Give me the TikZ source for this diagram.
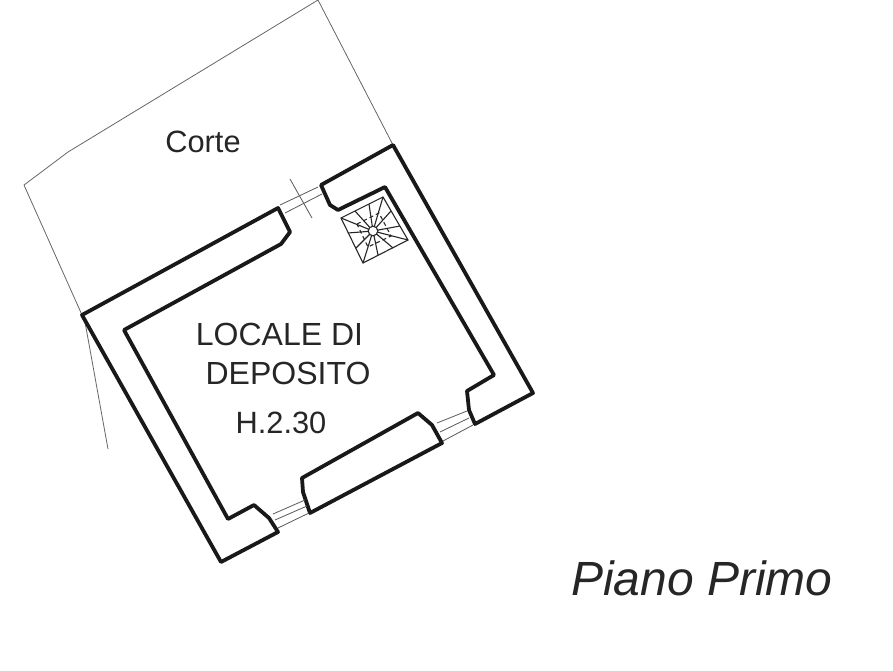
\documentclass[tikz,border=0pt]{standalone}
\usepackage{fontspec}
\setmainfont{Liberation Sans}
\tikzset{
  wall/.style={line width=3.8pt,line join=round,black!90},
  thin line/.style={line width=0.8pt,black!60},
  opening/.style={line width=0.8pt,black!65},
  tread/.style={line width=1.1pt,black!85},
  room label/.style={inner sep=0pt,font=\fontsize{30.8}{34}\selectfont,black!85},
  caps label/.style={room label,font=\fontsize{32}{36}\selectfont},
}
\begin{document}
\begin{tikzpicture}[x=1pt,y=-1pt]
        \useasboundingbox
          [fill=white]
          (0,0) rectangle (893,670)
        ;
        \draw
          [thin line]
          (82,315)
          -- (24,185)
          -- (68,152)
          -- (318,0)
          -- (393,145)
        ;
        \draw
          [thin line]
          (85,322)
          -- (108,449)
        ;
        \draw
          [wall]
          (82,315)
          -- (278,208)
          -- (290,232)
          -- (281,244)
          -- (124,330)
          -- (228,519)
          -- (254,505)
          -- (269,518)
          -- (278,532)
          -- (221,562)
          -- cycle
        ;
        \draw
          [wall]
          (302,478)
          -- (418,413)
          -- (432,425)
          -- (442,443)
          -- (310,513)
          -- (303,492)
          -- cycle
        ;
        \draw
          [wall]
          (321,185)
          -- (393,145)
          -- (533,393)
          -- (475,424)
          -- (469,410)
          -- (467,391)
          -- (494,375)
          -- (385,187)
          -- (338,210)
          -- (330,205)
          -- cycle
        ;
        % openings
        \draw [opening] (280,205) -- (318,187);
        \draw [opening] (285,213) -- (322,194);
        \draw [opening] (290,179) -- (312,218);
        \draw [opening] (273,514) -- (305,500);
        \draw [opening] (275,520) -- (307,506);
        \draw [opening] (278,528) -- (309,513);
        \draw [opening] (437,423) -- (467,411);
        \draw [opening] (440,432) -- (469,418);
        \draw [opening] (443,441) -- (473,425);
        % stair
        \draw
          [tread]
          (341,218)
          -- (383,197)
          -- (408,240)
          -- (363,263)
          -- cycle
        ;
        \foreach \tipx/\tipy in {
            341/218,355/211,369/204,383/197,
            391/211,400/226,408/240,
            393/248,378/255,363/263,
            356/248,348/233}
          {\draw [tread] (373,231) -- (\tipx,\tipy);}
        \draw
          [tread,dash pattern=on 4pt off 3pt]
          (357,224)
          -- (379,213)
          -- (391,236)
          -- (368,247)
          -- cycle
        ;
        \draw [tread,fill=white] (373,231) circle (4.8);
        \node (corte) [room label] at (203,142) {Corte};
        \node (locale) [caps label] at (279.5,334) {LOCALE DI};
        \node (deposito) [caps label] at (288,373) {DEPOSITO};
        \node (altezza) [room label] at (281,423) {H.2.30};
        \node (piano)
          [inner sep=0pt,font=\fontsize{48}{52}\selectfont\itshape,black!85]
          at (702,578) {Piano Primo};
      \end{tikzpicture}
\end{document}
